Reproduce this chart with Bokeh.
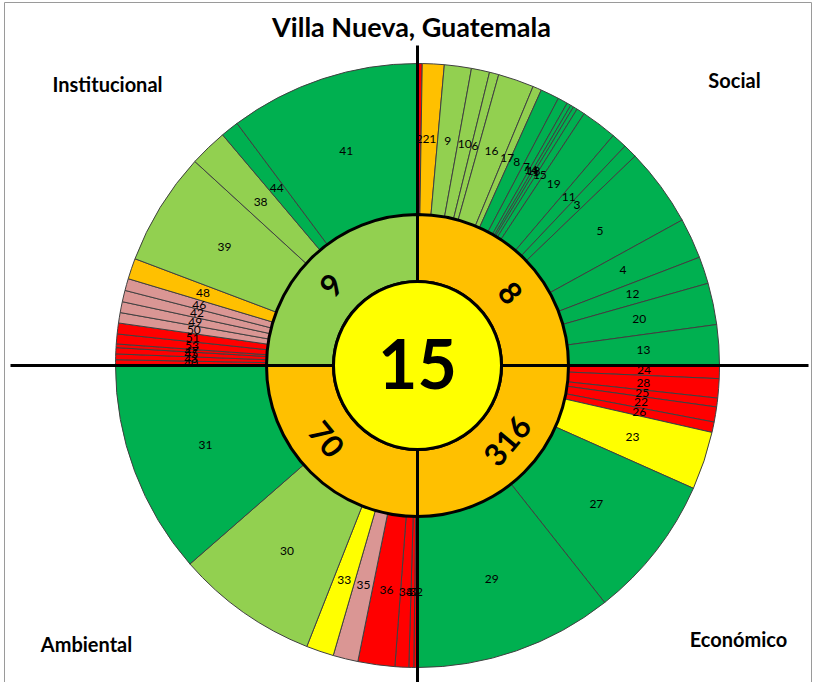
import math
from bokeh.plotting import figure
from bokeh.models import Range1d, ColumnDataSource
from bokeh.core.properties import value
from bokeh.embed import file_html
from bokeh.resources import INLINE

# ---------------- data ----------------
title_text = "Villa Nueva, Guatemala"
center_value = "15"

quadrant_names = ["Social", "Económico", "Ambiental", "Institucional"]
quadrant_totals = ["8", "316", "70", "9"]
quadrant_status = ["O", "O", "O", "LG"]

# indicators of each quadrant, clockwise, with their relative weights and status
social_ids = ["2", "21", "9", "10", "6", "16", "17", "8", "7", "14", "18", "1", "15",
              "19", "11", "3", "5", "4", "12", "20", "13"]
social_vals = [0.9, 4.2, 5.2, 3.5, 1.8, 6.9, 1.7, 3.6, 1.9, 0.8, 0.6, 0.8, 1.6,
               6.9, 3.0, 2.7, 15.1, 7.8, 5.2, 8.0, 7.8]
social_status = ["R", "O", "LG", "LG", "LG", "LG", "LG", "G", "G", "G", "G", "G", "G",
                 "G", "G", "G", "G", "G", "G", "G", "G"]

economico_ids = ["24", "28", "25", "22", "26", "23", "27", "29"]
economico_vals = [2.5, 3.7, 1.7, 2.9, 2.0, 11.2, 27.7, 38.3]
economico_status = ["R", "R", "R", "R", "R", "Y", "G", "G"]

ambiental_ids = ["32", "37", "34", "36", "35", "33", "30", "31"]
ambiental_vals = [0.7, 0.95, 2.65, 7.1, 4.8, 5.3, 27.4, 41.1]
ambiental_status = ["R", "R", "R", "R", "P", "Y", "LG", "G"]

institucional_ids = ["40", "43", "45", "47", "53", "51", "50", "49", "42", "46", "48",
                     "39", "38", "44", "41"]
institucional_vals = [1.1, 1.1, 1.2, 0.7, 1.9, 2.1, 2.0, 2.1, 2.2, 2.3, 4.0,
                      21.8, 7.3, 3.5, 36.7]
institucional_status = ["R", "R", "R", "R", "R", "R", "P", "P", "P", "P", "O",
                        "LG", "LG", "G", "G"]

# ---------------- style / layout ----------------
palette = {"R": "#FF0000", "P": "#DA9694", "O": "#FFC000", "Y": "#FFFF00",
           "LG": "#92D050", "G": "#00B050"}
FONT = "Lato"
R_CORE = 84
R_MID = 151
R_OUT = 302
W, H = 817, 682
CX, CY = 417, 365          # centre of the wheel inside the figure (px from left / top)

quadrants = [
    (social_ids, social_vals, social_status),
    (economico_ids, economico_vals, economico_status),
    (ambiental_ids, ambiental_vals, ambiental_status),
    (institucional_ids, institucional_vals, institucional_status),
]

p = figure(width=W, height=H, output_backend="svg", toolbar_location=None,
           x_range=Range1d(-CX, W - CX), y_range=Range1d(CY - H, CY),
           min_border=0)
p.axis.visible = False
p.grid.visible = False
p.outline_line_color = None
p.background_fill_color = "white"
p.border_fill_color = "white"

# chart frame
p.quad(left=[4 - CX], right=[811 - CX], top=[CY - 2], bottom=[CY - H - 5],
       fill_color=None, line_color="#9A9A9A", line_width=1)


def bk(theta):
    """clockwise-from-top degrees -> bokeh radians"""
    return math.radians(90.0 - theta)


# ---- outer ring ----
ow = dict(start=[], end=[], color=[])
lab = dict(x=[], y=[], text=[])
for q, (ids, vals, stat) in enumerate(quadrants):
    scale = 90.0 / sum(vals)
    t = 90.0 * q
    for i, v, s in zip(ids, vals, stat):
        t1, t2 = t, t + v * scale
        ow["start"].append(bk(t2))
        ow["end"].append(bk(t1))
        ow["color"].append(palette[s])
        tm = 0.5 * (t1 + t2)
        rl = 0.5 * (R_MID + R_OUT)
        lab["x"].append(rl * math.sin(math.radians(tm)))
        lab["y"].append(rl * math.cos(math.radians(tm)))
        lab["text"].append(i)
        t = t2

p.annular_wedge(x=0, y=0, inner_radius=R_MID, outer_radius=R_OUT,
                start_angle="start", end_angle="end", fill_color="color",
                line_color="#404040", line_width=1, source=ColumnDataSource(ow))
p.text(x="x", y="y", text="text", source=ColumnDataSource(lab),
       text_font=value(FONT), text_font_size="12px", text_color="black",
       text_align="center", text_baseline="middle")

# ---- middle ring ----
mw = dict(start=[bk(90 * (q + 1)) for q in range(4)],
          end=[bk(90 * q) for q in range(4)],
          color=[palette[s] for s in quadrant_status])
p.annular_wedge(x=0, y=0, inner_radius=R_CORE, outer_radius=R_MID,
                start_angle="start", end_angle="end", fill_color="color",
                line_color="black", line_width=3, source=ColumnDataSource(mw))

# ---- cross lines ----
p.segment(x0=[10 - CX, 0], y0=[0, CY - 45], x1=[808 - CX, 0], y1=[0, CY - H],
          line_color="black", line_width=3)

# ---- core ----
p.circle(x=[0], y=[0], radius=R_CORE, fill_color="#FFFF00", line_color="black",
         line_width=3)
p.text(x=[0], y=[2], text=[center_value], text_font=value(FONT),
       text_font_style="bold", text_font_size="68px", text_align="center",
       text_baseline="middle", text_color="black")

# ---- quadrant totals (tangential) ----
offsets = [7, -5, 6, -2]
rm = 0.5 * (R_CORE + R_MID)
tx, ty, ta = [], [], []
for q in range(4):
    th = 90 * q + 45 + offsets[q]
    tx.append(rm * math.sin(math.radians(th)))
    ty.append(rm * math.cos(math.radians(th)))
    rot = -th if (th < 90 or th > 270) else 180 - th
    ta.append(math.radians(rot))
p.text(x=tx, y=ty, text=quadrant_totals, angle=ta, text_font=value(FONT),
       text_font_style="bold", text_font_size="31px", text_align="center",
       text_baseline="middle", text_color="black")

# ---- title and quadrant names ----
p.text(x=[-6], y=[CY - 26], text=[title_text], text_font=value(FONT),
       text_font_style="bold", text_font_size="27px", text_align="center",
       text_baseline="middle", text_color="black")
name_x = [317, 321, -331, -310]
name_y = [286, -273, -278, 282]
p.text(x=name_x, y=name_y, text=quadrant_names, text_font=value(FONT),
       text_font_style="bold", text_font_size="20px", text_align="center",
       text_baseline="middle", text_color="black")

open("out.html", "w").write(file_html(p, INLINE))
